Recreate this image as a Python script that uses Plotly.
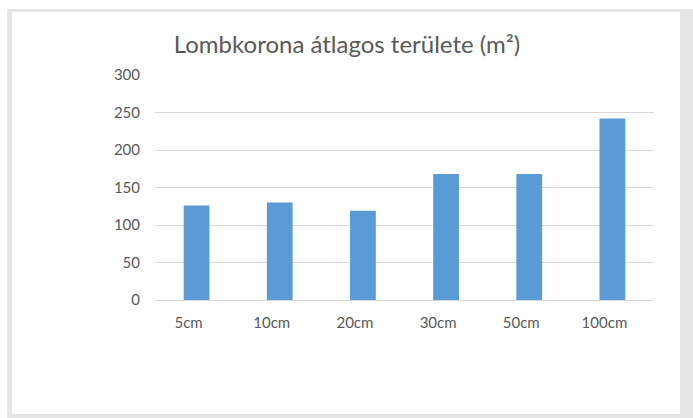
import plotly.graph_objects as go

categories = ["5cm", "10cm", "20cm", "30cm", "50cm", "100cm"]
values = [126, 130, 119, 168, 168, 242]
y_ticks = [0, 50, 100, 150, 200, 250, 300]
title_text = "Lombkorona átlagos területe (m²)"

W, H = 693, 418
L, R, T, B = 155, 39, 75, 118
pw, ph = W - L - R, H - T - B


def px_x(x):
    return (x - L) / pw


def px_y(y):
    return (H - B - y) / ph


fig = go.Figure()
fig.add_trace(go.Bar(x=categories, y=values, marker=dict(color="#5b9bd5", line=dict(width=0)),
                     hoverinfo="x+y"))

fig.add_shape(type="rect", xref="paper", yref="paper", layer="below",
              x0=px_x(7), x1=px_x(693), y0=px_y(418), y1=px_y(9),
              fillcolor="#e6e6e6", line=dict(width=0))
fig.add_shape(type="rect", xref="paper", yref="paper", layer="below",
              x0=px_x(12), x1=px_x(680), y0=px_y(414), y1=px_y(12),
              fillcolor="#ffffff", line=dict(width=0))

fig.update_layout(
    width=W, height=H,
    margin=dict(l=L, r=R, t=T, b=B, pad=0),
    paper_bgcolor="#ffffff", plot_bgcolor="rgba(0,0,0,0)",
    bargap=0.69,
    showlegend=False,
    font=dict(family="Lato, Open Sans, sans-serif", color="#595959", size=15),
    title=dict(text=title_text, x=347 / W, xanchor="center", y=1 - 45 / H, yanchor="middle",
               font=dict(family="Lato, Open Sans, sans-serif", size=24, color="#595959")),
    xaxis=dict(showgrid=False, showline=True, linecolor="#d9d9d9", linewidth=1,
               ticks="", tickfont=dict(size=15, color="#595959"), ticklabelshift=-8,
               ticklabelstandoff=9),
    yaxis=dict(range=[0, 300], tickvals=y_ticks, showgrid=True, gridcolor="#d9d9d9",
               gridwidth=1, zeroline=False, showline=False, ticks="",
               tickfont=dict(size=15, color="#595959"), ticklabelstandoff=14),
)

fig.write_html(
    "out.html",
    config={"displayModeBar": False},
    post_script="document.body.style.margin='0';document.body.style.overflow='hidden';",
)
